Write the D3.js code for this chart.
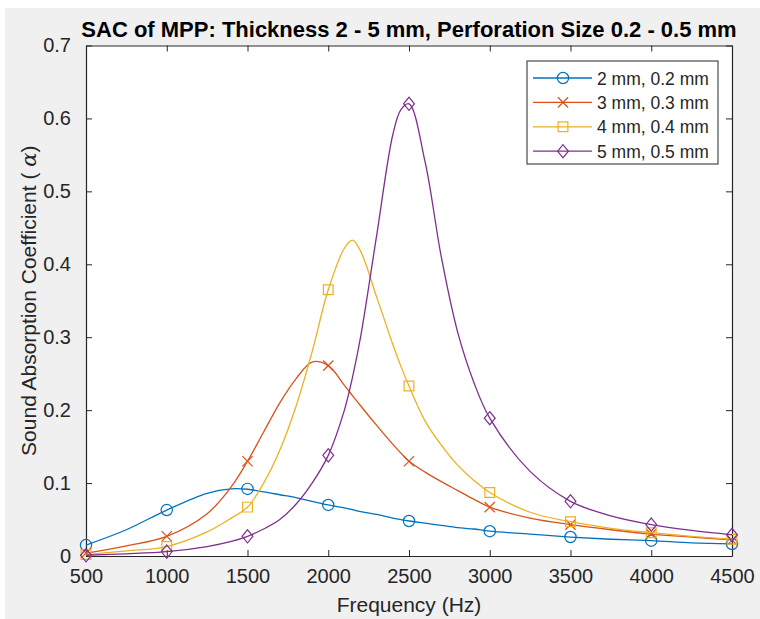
<!DOCTYPE html>
<html>
<head>
<meta charset="utf-8">
<script src="https://cdn.jsdelivr.net/npm/d3@7"></script>
<style>
  body { margin: 0; background: #fff; }
  text { font-family: "Liberation Sans", Arial, sans-serif; fill: #262626; }
</style>
</head>
<body>
<script>
// marker positions (Hz) and values read at the markers
var markerFreq = [500, 1000, 1500, 2000, 2500, 3000, 3500, 4000, 4500];
var mark2 = [0.015, 0.063, 0.092, 0.070, 0.048, 0.034, 0.026, 0.021, 0.0165];
var mark3 = [0.004, 0.027, 0.130, 0.261, 0.130, 0.067, 0.043, 0.030, 0.022];
var mark4 = [0.002, 0.013, 0.067, 0.365, 0.233, 0.087, 0.047, 0.032, 0.023];
var mark5 = [0.001, 0.006, 0.027, 0.138, 0.620, 0.189, 0.075, 0.043, 0.029];

// the smooth curves
var curveFreq = [500, 750, 1000, 1250, 1400, 1500, 1600, 1700, 1800, 1900, 2000, 2100, 2150, 2200, 2300, 2400, 2450, 2500, 2600, 2700, 2800, 2900, 3000, 3250, 3500, 3750, 4000, 4250, 4500];
var curve2 = [0.015, 0.036, 0.063, 0.086, 0.092, 0.0915, 0.088, 0.084, 0.080, 0.075, 0.070, 0.066, 0.0635, 0.061, 0.057, 0.052, 0.050, 0.048, 0.045, 0.042, 0.039, 0.037, 0.034, 0.030, 0.026, 0.023, 0.021, 0.018, 0.0165];
var curve3 = [0.004, 0.014, 0.027, 0.058, 0.095, 0.130, 0.170, 0.210, 0.243, 0.266, 0.261, 0.234, 0.220, 0.206, 0.179, 0.153, 0.141, 0.130, 0.115, 0.102, 0.090, 0.078, 0.067, 0.052, 0.043, 0.036, 0.030, 0.026, 0.022];
var curve4 = [0.002, 0.007, 0.013, 0.033, 0.052, 0.067, 0.100, 0.145, 0.205, 0.280, 0.365, 0.422, 0.433, 0.418, 0.355, 0.290, 0.260, 0.233, 0.185, 0.152, 0.125, 0.104, 0.087, 0.060, 0.047, 0.038, 0.032, 0.027, 0.023];
var curve5 = [0.001, 0.003, 0.006, 0.013, 0.020, 0.027, 0.037, 0.050, 0.071, 0.100, 0.138, 0.200, 0.245, 0.300, 0.440, 0.578, 0.612, 0.620, 0.540, 0.410, 0.308, 0.239, 0.189, 0.116, 0.075, 0.055, 0.043, 0.035, 0.029];

var labels = ['2 mm, 0.2 mm', '3 mm, 0.3 mm', '4 mm, 0.4 mm', '5 mm, 0.5 mm'];
var colors = ['#0072BD', '#D95319', '#EDB120', '#7E2F8E'];
var symbols = ['circle', 'cross', 'square', 'diamond'];
var xTicks = [500, 1000, 1500, 2000, 2500, 3000, 3500, 4000, 4500];
var yTicks = [0, 0.1, 0.2, 0.3, 0.4, 0.5, 0.6, 0.7];

var W = 760, H = 619;
var pLeft = 86, pRight = 732, pTop = 45.5, pBottom = 556;

var svg = d3.select('body').append('svg')
    .attr('width', W)
    .attr('height', H);

svg.append('rect')
    .attr('x', 5).attr('y', 8)
    .attr('width', W - 5).attr('height', H - 8)
    .style('fill', '#f0f0f0');

var x = d3.scaleLinear().domain([500, 4500]).range([pLeft, pRight]);
var y = d3.scaleLinear().domain([0, 0.7]).range([pBottom, pTop]);

svg.append('rect')
    .attr('x', pLeft).attr('y', pTop)
    .attr('width', pRight - pLeft).attr('height', pBottom - pTop)
    .style('fill', '#fff');

// axes, ticks inside on all four sides
var fmtY = function(d){ return d === 0 ? '0' : d3.format('.1f')(d); };
var gx = svg.append('g').attr('transform', 'translate(0,' + pBottom + ')')
    .call(d3.axisBottom(x).tickValues(xTicks).tickSizeInner(-6).tickSizeOuter(0).tickPadding(13).tickFormat(d3.format('d')));
var gxt = svg.append('g').attr('transform', 'translate(0,' + pTop + ')')
    .call(d3.axisTop(x).tickValues(xTicks).tickSizeInner(-6).tickSizeOuter(0).tickFormat(''));
var gy = svg.append('g').attr('transform', 'translate(' + pLeft + ',0)')
    .call(d3.axisLeft(y).tickValues(yTicks).tickSizeInner(-6).tickSizeOuter(0).tickPadding(15).tickFormat(fmtY));
var gyr = svg.append('g').attr('transform', 'translate(' + pRight + ',0)')
    .call(d3.axisRight(y).tickValues(yTicks).tickSizeInner(-6).tickSizeOuter(0).tickFormat(''));

[gx, gxt, gy, gyr].forEach(function(g){
    g.select('.domain').style('stroke', '#262626').style('stroke-width', 1.2);
    g.selectAll('.tick line').style('stroke', '#262626').style('stroke-width', 1);
    g.selectAll('.tick text')
        .style('font-family', '"Liberation Sans", Arial, sans-serif')
        .style('font-size', '20px')
        .style('fill', '#262626');
});

var curves = [curve2, curve3, curve4, curve5];
var marks = [mark2, mark3, mark4, mark5];

var line = d3.line()
    .x(function(d){ return x(d[0]); })
    .y(function(d){ return y(d[1]); })
    .curve(d3.curveCatmullRom.alpha(0.5));

var symType = {
    circle: d3.symbolCircle,
    cross: d3.symbolX,
    square: d3.symbolSquare,
    diamond: d3.symbolDiamond2
};
var symSize = { circle: 100, cross: 70, square: 95, diamond: 88 };

var drawMarker = function(g, kind, color){
    var p = g.append('path')
        .attr('d', d3.symbol().type(symType[kind]).size(symSize[kind])())
        .style('fill', 'none')
        .style('stroke', color)
        .style('stroke-width', 1.2);
    if (kind === 'diamond') p.attr('transform', 'scale(0.92,1.12)');
    return p;
};

var plot = svg.append('g');
curves.forEach(function(c, i){
    var pts = curveFreq.map(function(f, k){ return [f, c[k]]; });
    plot.append('path')
        .datum(pts)
        .attr('d', line)
        .style('fill', 'none')
        .style('stroke', colors[i])
        .style('stroke-width', 1.3);
    plot.selectAll('.m' + i)
        .data(markerFreq.map(function(f, k){ return [f, marks[i][k]]; }))
        .enter()
        .append('g')
        .attr('class', 'm' + i)
        .attr('transform', function(d){ return 'translate(' + x(d[0]) + ',' + y(d[1]) + ')'; })
        .each(function(){ drawMarker(d3.select(this), symbols[i], colors[i]); });
});

// legend
var lg = svg.append('g');
lg.append('rect')
    .attr('x', 527).attr('y', 61)
    .attr('width', 191).attr('height', 103)
    .style('fill', '#fff')
    .style('stroke', '#262626')
    .style('stroke-width', 1);
labels.forEach(function(l, i){
    var ry = 78 + i * 24.4;
    lg.append('line')
        .attr('x1', 533).attr('x2', 592)
        .attr('y1', ry).attr('y2', ry)
        .style('stroke', colors[i])
        .style('stroke-width', 1.3);
    var mg = lg.append('g').attr('transform', 'translate(563,' + ry + ')');
    drawMarker(mg, symbols[i], colors[i]);
    lg.append('text')
        .attr('x', 597).attr('y', ry + 6.5)
        .style('font-size', '17.5px')
        .text(l);
});

// title and axis labels
svg.append('text')
    .attr('x', (pLeft + pRight) / 2).attr('y', 37)
    .attr('text-anchor', 'middle')
    .style('font-size', '22px')
    .style('font-weight', 'bold')
    .style('fill', '#000')
    .text('SAC of MPP: Thickness 2 - 5 mm, Perforation Size 0.2 - 0.5 mm');

svg.append('text')
    .attr('x', (pLeft + pRight) / 2).attr('y', 612)
    .attr('text-anchor', 'middle')
    .style('font-size', '21px')
    .text('Frequency (Hz)');

var yl = svg.append('text')
    .attr('transform', 'translate(36,' + ((pTop + pBottom) / 2) + ') rotate(-90)')
    .attr('text-anchor', 'middle')
    .style('font-size', '21px');
yl.append('tspan').text('Sound Absorption Coefficient ( ');
yl.append('tspan')
    .style('font-family', '"DejaVu Serif", "Liberation Serif", serif')
    .style('font-style', 'italic')
    .text('\u03b1');
yl.append('tspan').text(')');
</script>
</body>
</html>
